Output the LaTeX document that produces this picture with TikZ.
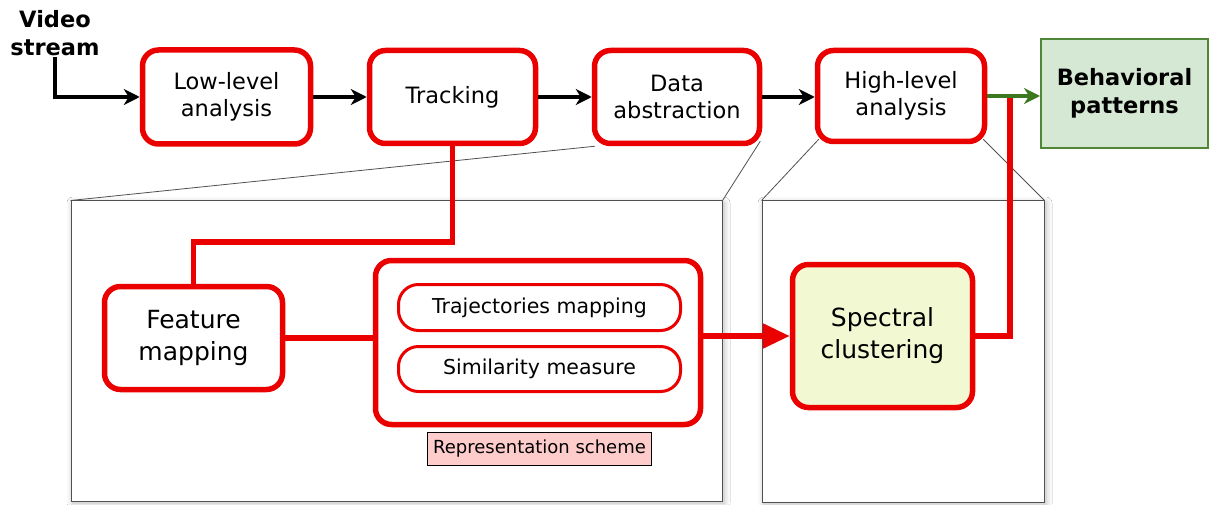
\documentclass[tikz,border=0pt]{standalone}
\usepackage{fontspec}
\setmainfont{DejaVu Sans}
\usetikzlibrary{arrows.meta,shadows.blur,calc}
\definecolor{myred}{RGB}{235,0,0}
\definecolor{mygreen}{RGB}{60,120,30}
\definecolor{pgreenfill}{RGB}{213,232,212}
\definecolor{pgreenline}{RGB}{80,135,55}
\definecolor{specfill}{RGB}{242,248,210}
\definecolor{repfill}{RGB}{255,204,204}
\definecolor{panelline}{RGB}{80,80,80}
\begin{document}
\begin{tikzpicture}[x=1pt,y=-1pt,
  mainbox/.style={draw=myred, line width=5.5pt, rounded corners=16pt, fill=white, align=center, inner sep=0pt, font=\fontsize{22.5}{27}\selectfont},
  bigbox/.style={mainbox, font=\fontsize{25}{32}\selectfont},
  pill/.style={draw=myred, line width=3pt, rounded corners=20pt, fill=white, inner sep=0pt, font=\fontsize{20.5}{24}\selectfont},
  labelbox/.style={draw=black, line width=1pt, fill=repfill, inner sep=0pt, font=\fontsize{18}{21}\selectfont},
  behav/.style={draw=pgreenline, line width=2pt, fill=pgreenfill, align=center, inner sep=0pt, font=\bfseries\fontsize{22.5}{28}\selectfont},
  panel/.style={draw=panelline, line width=1pt, fill=white, inner sep=0pt, blur shadow={shadow xshift=2pt, shadow yshift=-2pt, shadow blur radius=6pt, shadow opacity=30}},
  blackarrow/.style={draw=black, line width=3.2pt, -{Stealth[length=16pt,width=16pt,inset=5pt]}},
  greenarrow/.style={draw=mygreen, line width=3.5pt, -{Stealth[length=16pt,width=16pt,inset=5pt]}},
  redline/.style={draw=myred, line width=5.5pt},
  greyline/.style={draw=panelline, line width=0.8pt},
]
\useasboundingbox (0,0) rectangle (1210,505);
\fill[white] (0,0) rectangle (1210,505);

% panels
\node[panel, minimum width=651pt, minimum height=300pt] (lp) at (396.5,351) {};
\node[panel, minimum width=282pt, minimum height=301pt] (rp) at (903,351.5) {};

% top row boxes
\node[mainbox, minimum width=168pt, minimum height=94pt] (low) at (226.5,97) {Low-level\\analysis};
\node[mainbox, minimum width=166pt, minimum height=93pt] (track) at (452.5,97) {Tracking};
\node[mainbox, minimum width=165pt, minimum height=93pt] (data) at (677,97) {Data\\abstraction};
\node[mainbox, minimum width=167pt, minimum height=91pt] (high) at (901,96) {High-level\\analysis};
\node[behav, minimum width=167pt, minimum height=109pt] (beh) at (1124.5,93.5) {Behavioral\\patterns};

\node[align=center, inner sep=1pt, font=\bfseries\fontsize{22.5}{28}\selectfont] (video) at (55,33) {Video\\stream};

% zoom lines
\draw[greyline] ($(data.south west)+(3,0)$) -- (lp.north west);
\draw[greyline] ($(data.south east)+(-2,-5)$) -- (lp.north east);
\draw[greyline] ($(high.south west)+(4,-5)$) -- (rp.north west);
\draw[greyline] ($(high.south east)+(-4,-5)$) -- (rp.north east);

% lower boxes
\node[bigbox, minimum width=178pt, minimum height=103pt] (feat) at (193.5,338) {Feature\\mapping};
\node[mainbox, minimum width=325pt, minimum height=164pt] (rep) at (538,342.5) {};
\node[pill, minimum width=282pt, minimum height=46pt] (traj) at (539.5,307.5) {Trajectories mapping};
\node[pill, minimum width=282pt, minimum height=45pt] (sim) at (539.5,369) {Similarity measure};
\node[labelbox, minimum width=224pt, minimum height=33pt] (replabel) at (539.5,449) {Representation scheme};
\node[bigbox, fill=specfill, minimum width=180pt, minimum height=143pt] (spec) at (882.5,336) {Spectral\\clustering};

\coordinate (jr) at (1010,96);

% connectors
\draw[redline] (track.south) -- ++(0,95.5) -| (feat.north);
\draw[redline] (feat.east) -- (feat.east -| rep.west);
\draw[redline, -{Triangle[length=27pt,width=24pt]}] (rep.east |- spec.west) -- (spec.west);
\draw[redline] (jr) |- (spec.east);

\draw[blackarrow] (video.south) |- (low.west);
\draw[blackarrow] (low.east) -- (track.west);
\draw[blackarrow] (track.east) -- (data.west);
\draw[blackarrow] (data.east) -- (data.east -| high.west);
\draw[greenarrow] (high.east) -- (high.east -| beh.west);
\end{tikzpicture}
\end{document}
